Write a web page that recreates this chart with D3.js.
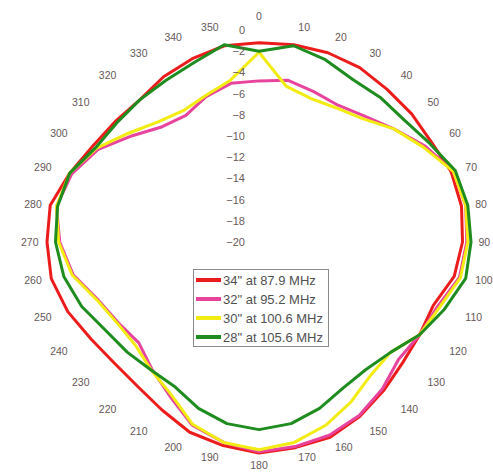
<!DOCTYPE html>
<html>
<head>
<meta charset="utf-8">
<script src="https://cdn.jsdelivr.net/npm/d3@7/dist/d3.min.js"></script>
<style>
  html, body { margin: 0; padding: 0; background: #fff; }
  svg { display: block; font-family: "Liberation Sans", Arial, sans-serif; }
</style>
</head>
<body>
<svg id="chart" width="493" height="472"></svg>
<script>
// Azimuth in degrees (clockwise from top)
const categories = [0,10,20,30,40,50,60,70,80,90,100,110,120,130,140,150,160,170,
                    180,190,200,210,220,230,240,250,260,270,280,290,300,310,320,330,340,350];

// Relative level in dB, one value per azimuth
const series34 = [-1.2,-1.1,-1.0,-1.0,-1.2,-1.2,-1.2,-0.7,-0.6,-0.8,-1.3,-2.5,-2.5,-2.3,-1.7,-1.0,-0.4,-0.3,
                  -0.1,-0.5,-0.9,-1.7,-2.2,-2.2,-1.7,-0.8,-0.1,0,0,-1.0,-1.9,-2.3,-2.5,-2.0,-1.6,-1.2];
const series32 = [-4.8,-4.5,-4.9,-5.1,-4.5,-3.4,-1.9,-0.5,-0.2,-0.4,-0.8,-2.1,-2.5,-2.8,-1.9,-1.1,-0.6,-0.4,
                  -0.2,-0.8,-1.6,-3.2,-4.3,-5.2,-4.7,-3.9,-2.2,-1.2,-0.6,-1.2,-2.5,-4.4,-5.8,-6.2,-5.4,-4.8];
const series30 = [-2.1,-5.1,-5.6,-5.4,-4.8,-3.4,-2.1,-0.5,-0.2,-0.3,-0.7,-1.9,-2.5,-3.8,-3.6,-2.6,-1.6,-0.8,
                  -0.4,-0.8,-1.7,-3.4,-4.2,-4.8,-4.6,-3.8,-2.1,-1.1,-0.6,-1.0,-2.3,-4.0,-5.2,-5.7,-5.3,-4.5];
const series28 = [-2.0,-1.2,-1.7,-2.3,-2.2,-2.1,-1.4,-0.3,0,0,-0.2,-1.4,-2.5,-3.8,-4.3,-4.1,-3.3,-2.6,
                  -2.3,-2.6,-3.3,-4.2,-4.2,-3.8,-3.3,-2.2,-1.3,-0.8,-0.7,-1.0,-2.2,-2.5,-2.5,-2.4,-2.0,-1.1];

const seriesNames = ['34" at 87.9 MHz', '32" at 95.2 MHz', '30" at 100.6 MHz', '28" at 105.6 MHz'];
const seriesColors = ["#ec1c1c", "#e8449e", "#f2ec12", "#1e8c1e"];
const seriesValues = [series34, series32, series30, series28];

const radialTicks = [0,-2,-4,-6,-8,-10,-12,-14,-16,-18,-20];

const svg = d3.select("#chart");
const cx = 259, cy = 242, R = 212;

const angle = d3.scaleLinear().domain([0, 360]).range([0, 2 * Math.PI]);
const radius = d3.scaleLinear().domain([-20, 0]).range([0, R]);

const plot = svg.append("g").attr("transform", `translate(${cx},${cy})`);

// Series outlines
const line = d3.lineRadial()
  .angle(d => angle(d.cat))
  .radius(d => radius(d.v))
  .curve(d3.curveLinearClosed);

seriesValues.forEach((vals, i) => {
  const pts = categories.map((c, k) => ({ cat: c, v: vals[k] }));
  plot.append("path")
    .datum(pts)
    .attr("d", line)
    .attr("fill", "none")
    .attr("stroke", seriesColors[i])
    .attr("stroke-width", 3)
    .attr("stroke-linejoin", "round");
});

// Radial value axis along the vertical
const yAxisScale = d3.scaleLinear().domain([-20, 0]).range([cy, cy - R]);
const yAxis = svg.append("g")
  .attr("transform", `translate(${cx},0)`)
  .call(d3.axisLeft(yAxisScale).tickValues(radialTicks).tickSize(0).tickPadding(14));
yAxis.select(".domain").remove();
yAxis.selectAll("text")
  .attr("font-size", 11)
  .attr("font-family", "Liberation Sans, Arial, sans-serif")
  .attr("fill", "#6a5a5a");

// Azimuth labels
const labelR = 218;
svg.append("g").selectAll("text")
  .data(categories)
  .join("text")
  .attr("x", d => {
    const a = angle(d);
    const s = Math.sin(a);
    const off = (d === 0 || d === 180) ? 0 : (s > 0 ? 1.5 : -2.5);
    return cx + labelR * s + off;
  })
  .attr("y", d => {
    const a = angle(d);
    const off = d === 0 ? -8 : (d === 180 ? 5 : 0);
    return cy - labelR * Math.cos(a) + off;
  })
  .attr("text-anchor", d => (d === 0 || d === 180) ? "middle" : (d < 180 ? "start" : "end"))
  .attr("dominant-baseline", "central")
  .attr("font-size", 10.5)
  .attr("fill", "#665858")
  .text(d => d);

// Legend
const legend = svg.append("g").attr("transform", "translate(193,269)");
legend.append("rect")
  .attr("x", 0.5).attr("y", 0.5)
  .attr("width", 135).attr("height", 77)
  .attr("fill", "#fff")
  .attr("stroke", "#8a8a8a")
  .attr("stroke-width", 1);
const rowY = d3.scalePoint().domain(d3.range(seriesNames.length)).range([11, 68]);
seriesNames.forEach((name, i) => {
  const y = rowY(i);
  legend.append("line")
    .attr("x1", 3).attr("x2", 28)
    .attr("y1", y).attr("y2", y)
    .attr("stroke", seriesColors[i])
    .attr("stroke-width", 4);
  legend.append("text")
    .attr("x", 30).attr("y", y)
    .attr("dominant-baseline", "central")
    .attr("font-size", 13)
    .attr("fill", "#505050")
    .text(name);
});
</script>
</body>
</html>
